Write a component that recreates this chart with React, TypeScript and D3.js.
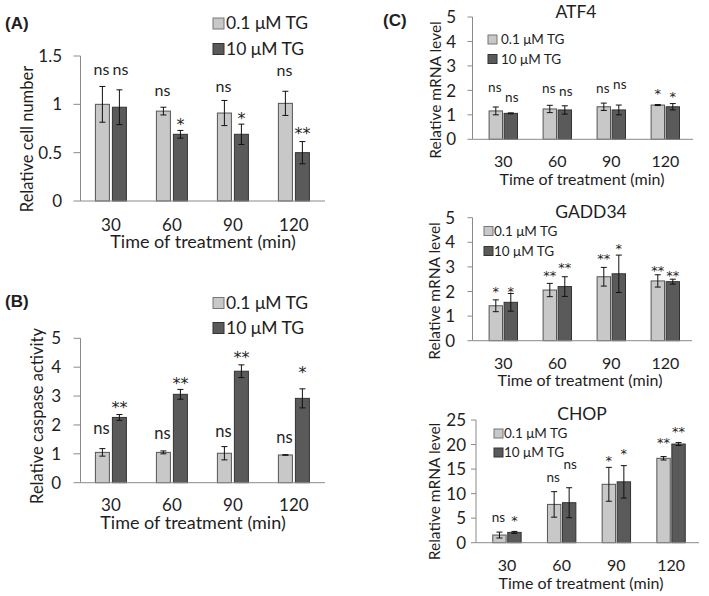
import React from "react";
import * as d3 from "d3";

const times = ["30", "60", "90", "120"];

// (A) relative cell number
const cellLow = [1.0, 0.93, 0.91, 1.01];
const cellLowErr = [0.185, 0.04, 0.13, 0.125];
const cellHigh = [0.97, 0.69, 0.69, 0.5];
const cellHighErr = [0.18, 0.04, 0.105, 0.115];
const cellLowSig = ["ns", "ns", "ns", "ns"];
const cellHighSig = ["ns", "*", "*", "**"];
const cellLowSigY = [1.34, 1.127, 1.17, 1.33];
const cellHighSigY = [1.34, 0.835, 0.9, 0.74];

// (B) relative caspase activity
const caspLow = [1.05, 1.05, 1.02, 0.96];
const caspLowErr = [0.13, 0.05, 0.23, 0.01];
const caspHigh = [2.26, 3.06, 3.86, 2.92];
const caspHighErr = [0.1, 0.17, 0.22, 0.33];
const caspLowSig = ["ns", "ns", "ns", "ns"];
const caspHighSig = ["**", "**", "**", "*"];
const caspLowSigY = [1.82, 1.65, 1.73, 1.53];
const caspHighSigY = [2.75, 3.58, 4.48, 3.96];

// (C) ATF4
const atf4Low = [1.16, 1.24, 1.33, 1.4];
const atf4LowErr = [0.16, 0.15, 0.15, 0.02];
const atf4High = [1.06, 1.2, 1.2, 1.33];
const atf4HighErr = [0.02, 0.17, 0.2, 0.13];
const atf4LowSig = ["ns", "ns", "ns", "*"];
const atf4HighSig = ["ns", "ns", "ns", "*"];
const atf4LowSigY = [2.08, 2.04, 2.04, 2.01];
const atf4HighSigY = [1.66, 1.92, 2.18, 1.9];

// (C) GADD34
const gaddLow = [1.42, 2.06, 2.6, 2.43];
const gaddLowErr = [0.24, 0.27, 0.38, 0.25];
const gaddHigh = [1.56, 2.2, 2.72, 2.4];
const gaddHighErr = [0.36, 0.4, 0.76, 0.1];
const gaddLowSig = ["*", "**", "**", "**"];
const gaddHighSig = ["*", "**", "*", "**"];
const gaddLowSigY = [2.13, 2.78, 3.48, 3.01];
const gaddHighSigY = [2.13, 3.14, 3.89, 2.78];

// (C) CHOP
const chopLow = [1.56, 7.8, 11.9, 17.2];
const chopLowErr = [0.6, 2.6, 3.45, 0.35];
const chopHigh = [2.1, 8.15, 12.4, 20.1];
const chopHighErr = [0.2, 3.05, 3.3, 0.3];
const chopLowSig = ["ns", "ns", "*", "**"];
const chopHighSig = ["*", "ns", "*", "**"];
const chopLowSigY = [4.96, 13.1, 17.5, 21.2];
const chopHighSigY = [5.3, 15.8, 18.9, 23.4];

const legendLabels = ["0.1 μM TG", "10 μM TG"];
const tickLabels0to5 = [0, 1, 2, 3, 4, 5];

const FONT = "Lato, 'Open Sans', sans-serif";
const STAR_FONT = "'DejaVu Sans', sans-serif";
const TEXT = "#1e1e1e";
const AXIS = "#8a8a8a";
const LIGHT = "#c8c8c8";
const LIGHT_STROKE = "#555";
const DARK = "#5a5a5a";
const DARK_STROKE = "#333";

type Cfg = {
  yDomain: [number, number];
  yRange: [number, number];
  yTicks: number[];
  axisX: number;
  axisEnd: number;
  tickLen: number;
  band: [number, number];
  barW: number;
  gap: number;
  low: number[];
  lowErr: number[];
  high: number[];
  highErr: number[];
  lowSig: string[];
  highSig: string[];
  lowSigY: number[];
  highSigY: number[];
  sigSize: number;
  starSize: number;
  yTickSize: number;
  xTickSize: number;
  tickLabelX: number;
  xTickY: number;
  xTitle: { x: number; y: number; size: number };
  yLabel: { text: string; x: number; y: number; size: number };
  legend: { sx: number; tx: number; y1: number; y2: number; sq: number; size: number };
  title?: { text: string; x: number; y: number; size: number };
  letter?: { text: string; x: number; y: number };
};

function Panel({ c }: { c: Cfg }) {
  const y = d3.scaleLinear().domain(c.yDomain).range(c.yRange);
  const x = d3.scaleBand().domain(times).range(c.band).paddingInner(0);
  const half = x.bandwidth() / 2;
  const series = [
    { vals: c.low, err: c.lowErr, sig: c.lowSig, sigY: c.lowSigY, fill: LIGHT, stroke: LIGHT_STROKE, off: -c.gap / 2 - c.barW, nudge: -1 },
    { vals: c.high, err: c.highErr, sig: c.highSig, sigY: c.highSigY, fill: DARK, stroke: DARK_STROKE, off: c.gap / 2, nudge: 1 },
  ];
  const y0 = y(0);
  return (
    <g fontFamily={FONT} fill={TEXT}>
      {c.letter && (
        <text x={c.letter.x} y={c.letter.y} fontFamily="Arial, 'Liberation Sans', sans-serif" fontWeight="bold" fontSize={17}>
          {c.letter.text}
        </text>
      )}
      {c.title && (
        <text x={c.title.x} y={c.title.y} textAnchor="middle" fontSize={c.title.size}>
          {c.title.text}
        </text>
      )}
      {/* y axis */}
      <line x1={c.axisX} x2={c.axisX} y1={y(c.yDomain[1])} y2={y0} stroke={AXIS} strokeWidth={1} />
      {c.yTicks.map((t) => (
        <g key={"t" + t}>
          <line x1={c.axisX - c.tickLen} x2={c.axisX} y1={y(t)} y2={y(t)} stroke={AXIS} strokeWidth={1} />
          <text x={c.tickLabelX} y={y(t)} dy="0.36em" textAnchor="end" fontSize={c.yTickSize}>
            {String(t)}
          </text>
        </g>
      ))}
      {/* bars */}
      {series.map((s, si) =>
        times.map((t, i) => {
          const cx = (x(t) as number) + half;
          const bx = cx + s.off;
          const top = y(s.vals[i]);
          const eHi = y(s.vals[i] + s.err[i]);
          const eLo = y(s.vals[i] - s.err[i]);
          const ex = bx + c.barW / 2;
          const isStar = s.sig[i].includes("*");
          return (
            <g key={si + "-" + t}>
              <rect x={bx} y={top} width={c.barW} height={y0 - top} fill={s.fill} stroke={s.stroke} strokeWidth={1} />
              <line x1={ex} x2={ex} y1={eHi} y2={eLo} stroke="#111" strokeWidth={1} />
              <line x1={ex - 3} x2={ex + 3} y1={eHi} y2={eHi} stroke="#111" strokeWidth={1} />
              <line x1={ex - 3} x2={ex + 3} y1={eLo} y2={eLo} stroke="#111" strokeWidth={1} />
              <text
                x={ex + (isStar ? 0 : s.nudge)}
                y={y(s.sigY[i])}
                dy={isStar ? "0.62em" : "0.25em"}
                textAnchor="middle"
                fontFamily={isStar ? STAR_FONT : FONT}
                fontSize={isStar ? c.starSize : c.sigSize}
              >
                {s.sig[i]}
              </text>
            </g>
          );
        })
      )}
      {/* x axis */}
      <line x1={c.axisX} x2={c.axisEnd} y1={y0} y2={y0} stroke={AXIS} strokeWidth={1} />
      {times.map((t) => (
        <text key={"x" + t} x={(x(t) as number) + half} y={c.xTickY} textAnchor="middle" fontSize={c.xTickSize}>
          {t}
        </text>
      ))}
      <text x={c.xTitle.x} y={c.xTitle.y} textAnchor="middle" fontSize={c.xTitle.size}>
        Time of treatment (min)
      </text>
      <text
        transform={`translate(${c.yLabel.x},${c.yLabel.y}) rotate(-90)`}
        textAnchor="middle"
        fontSize={c.yLabel.size}
      >
        {c.yLabel.text}
      </text>
      {/* legend */}
      {[LIGHT, DARK].map((f, i) => {
        const by = i === 0 ? c.legend.y1 : c.legend.y2;
        return (
          <g key={"l" + i}>
            <rect
              x={c.legend.sx}
              y={by - c.legend.sq}
              width={c.legend.sq}
              height={c.legend.sq}
              fill={f}
              stroke={i === 0 ? "#777" : "#333"}
              strokeWidth={1}
            />
            <text x={c.legend.tx} y={by} fontSize={c.legend.size}>
              {legendLabels[i]}
            </text>
          </g>
        );
      })}
    </g>
  );
}

const panels: Cfg[] = [
  {
    yDomain: [0, 1.5],
    yRange: [201, 56],
    yTicks: [0, 0.5, 1, 1.5],
    axisX: 80.5,
    axisEnd: 325,
    tickLen: 7,
    band: [80.4, 324.4],
    barW: 14,
    gap: 3,
    low: cellLow,
    lowErr: cellLowErr,
    high: cellHigh,
    highErr: cellHighErr,
    lowSig: cellLowSig,
    highSig: cellHighSig,
    lowSigY: cellLowSigY,
    highSigY: cellHighSigY,
    sigSize: 16,
    starSize: 16,
    yTickSize: 17,
    xTickSize: 17,
    tickLabelX: 62,
    xTickY: 231,
    xTitle: { x: 203, y: 247.5, size: 18 },
    yLabel: { text: "Relative cell number", x: 33, y: 139, size: 16.5 },
    legend: { sx: 213, tx: 226, y1: 29, y2: 54.5, sq: 11, size: 17.5 },
    letter: { text: "(A)", x: 5, y: 29 },
  },
  {
    yDomain: [0, 5],
    yRange: [482.7, 338.3],
    yTicks: tickLabels0to5,
    axisX: 80.5,
    axisEnd: 325,
    tickLen: 7,
    band: [80.4, 324.4],
    barW: 14,
    gap: 3,
    low: caspLow,
    lowErr: caspLowErr,
    high: caspHigh,
    highErr: caspHighErr,
    lowSig: caspLowSig,
    highSig: caspHighSig,
    lowSigY: caspLowSigY,
    highSigY: caspHighSigY,
    sigSize: 16.5,
    starSize: 16,
    yTickSize: 17,
    xTickSize: 17,
    tickLabelX: 61,
    xTickY: 511,
    xTitle: { x: 193, y: 529, size: 18 },
    yLabel: { text: "Relative caspase activity", x: 42.5, y: 416, size: 16.5 },
    legend: { sx: 213, tx: 226, y1: 308.5, y2: 333.5, sq: 11, size: 17.5 },
    letter: { text: "(B)", x: 5, y: 307 },
  },
  {
    yDomain: [0, 5],
    yRange: [139.3, 17],
    yTicks: tickLabels0to5,
    axisX: 472.5,
    axisEnd: 693,
    tickLen: 5,
    band: [476.3, 692.3],
    barW: 13.4,
    gap: 1.6,
    low: atf4Low,
    lowErr: atf4LowErr,
    high: atf4High,
    highErr: atf4HighErr,
    lowSig: atf4LowSig,
    highSig: atf4HighSig,
    lowSigY: atf4LowSigY,
    highSigY: atf4HighSigY,
    sigSize: 13.5,
    starSize: 13,
    yTickSize: 17,
    xTickSize: 16,
    tickLabelX: 456,
    xTickY: 166.5,
    xTitle: { x: 582, y: 184.5, size: 16 },
    yLabel: { text: "Relative mRNA level", x: 441, y: 90, size: 15.5 },
    legend: { sx: 488, tx: 501, y1: 44, y2: 63.5, sq: 9, size: 13.5 },
    title: { text: "ATF4", x: 576, y: 18, size: 17.5 },
    letter: { text: "(C)", x: 383, y: 26 },
  },
  {
    yDomain: [0, 5],
    yRange: [340.7, 217.7],
    yTicks: tickLabels0to5,
    axisX: 472.5,
    axisEnd: 692,
    tickLen: 5,
    band: [476.3, 692.3],
    barW: 13.4,
    gap: 1.6,
    low: gaddLow,
    lowErr: gaddLowErr,
    high: gaddHigh,
    highErr: gaddHighErr,
    lowSig: gaddLowSig,
    highSig: gaddHighSig,
    lowSigY: gaddLowSigY,
    highSigY: gaddHighSigY,
    sigSize: 13.5,
    starSize: 13,
    yTickSize: 17,
    xTickSize: 16,
    tickLabelX: 455,
    xTickY: 368.5,
    xTitle: { x: 580, y: 385.5, size: 16 },
    yLabel: { text: "Relative mRNA level", x: 440, y: 291, size: 15.5 },
    legend: { sx: 484, tx: 494, y1: 235.5, y2: 255.5, sq: 9, size: 13.5 },
    title: { text: "GADD34", x: 591, y: 217.7, size: 17.5 },
  },
  {
    yDomain: [0, 25],
    yRange: [542.7, 420],
    yTicks: [0, 5, 10, 15, 20, 25],
    axisX: 476,
    axisEnd: 699,
    tickLen: 5,
    band: [479.6, 698.4],
    barW: 13.4,
    gap: 1.6,
    low: chopLow,
    lowErr: chopLowErr,
    high: chopHigh,
    highErr: chopHighErr,
    lowSig: chopLowSig,
    highSig: chopHighSig,
    lowSigY: chopLowSigY,
    highSigY: chopHighSigY,
    sigSize: 13.5,
    starSize: 13,
    yTickSize: 17,
    xTickSize: 16,
    tickLabelX: 466,
    xTickY: 571,
    xTitle: { x: 581, y: 588.5, size: 16 },
    yLabel: { text: "Relative mRNA level", x: 440, y: 491.5, size: 15.5 },
    legend: { sx: 494, tx: 504, y1: 438, y2: 457, sq: 9, size: 13.5 },
    title: { text: "CHOP", x: 582, y: 420, size: 17.5 },
  },
];

export default function App() {
  return (
    <svg
      width={709}
      height={596}
      style={{ position: "absolute", left: 0, top: 0, background: "#fff" }}
    >
      <rect width={709} height={596} fill="#fff" />
      {panels.map((c, i) => (
        <Panel key={i} c={c} />
      ))}
    </svg>
  );
}
